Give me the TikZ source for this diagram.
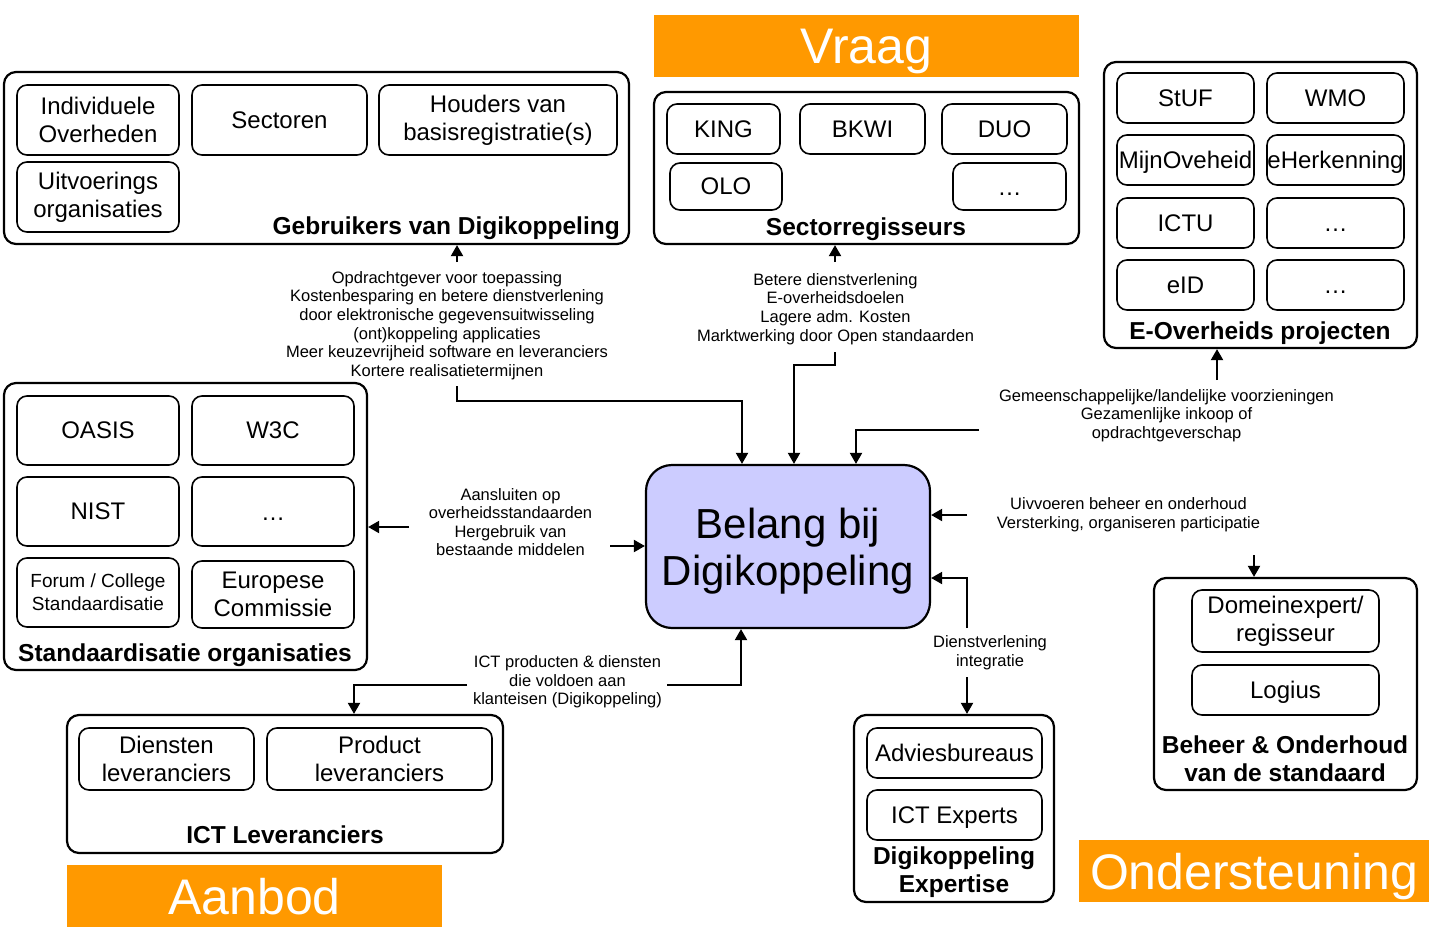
\documentclass[tikz,border=0pt]{standalone}
\usepackage{fontspec}
\setmainfont{Liberation Sans}
\usetikzlibrary{arrows.meta}
\definecolor{orng}{RGB}{255,153,0}
\definecolor{lav}{RGB}{204,204,255}
\newcommand\mybox[7]{\node[#1, minimum width={(#5)-(#3)}, minimum height={(#6)-(#4)}] (#2) at ({((#3)+(#5))/2},{((#4)+(#6))/2}) {#7};}
\begin{document}
\begin{tikzpicture}[x=1pt,y=-1pt,
 outer/.style={draw, line width=2.2pt, rounded corners=12pt, inner sep=0pt},
 inner/.style={draw, line width=1.6pt, rounded corners=10pt, inner sep=0pt, align=center, font=\fontsize{24}{28}\selectfont},
 one/.style={text depth=0pt},
 dots/.style={text height=17pt, text depth=0pt},
 ttl/.style={font=\bfseries\fontsize{24.5}{28}\selectfont, inner sep=0pt, align=center},
 lab/.style={font=\fontsize{16.5}{18.6}\selectfont, align=center, inner sep=0pt},
 orange/.style={fill=orng, inner sep=0pt, text=white, text depth=0pt, font=\fontsize{50}{56}\selectfont},
 arr/.style={line width=2pt, -{Triangle[length=11pt,width=12pt]}}]
\useasboundingbox[fill=white] (0,0) rectangle (1451,929);

% orange headers
\mybox{orange}{vraag}{654}{15}{1079}{77}{Vraag}
\mybox{orange}{aanbod}{67}{865}{442}{927}{Aanbod}
\mybox{orange}{onderst}{1079}{840}{1429}{902}{Ondersteuning}

% Gebruikers
\mybox{outer}{gebr}{4}{72}{629}{244}{}
\mybox{inner}{indiv}{17}{85}{179}{155}{Individuele\\Overheden}
\mybox{inner,one}{sector}{192}{85}{367}{155}{Sectoren}
\mybox{inner}{houders}{379}{85}{617}{155}{Houders van\\basisregistratie(s)}
\mybox{inner}{uitv}{17}{162}{179}{232}{Uitvoerings\\organisaties}
\node[ttl, anchor=east, text depth=0pt] (gebrt) at (620,226) {Gebruikers van Digikoppeling};

% Sectorregisseurs
\mybox{outer}{sect}{654}{92}{1079}{244}{}
\mybox{inner,one}{king}{667}{104}{780}{154}{KING}
\mybox{inner,one}{bkwi}{800}{104}{925}{154}{BKWI}
\mybox{inner,one}{duo}{942}{104}{1067}{154}{DUO}
\mybox{inner,one}{olo}{670}{163}{782}{210}{OLO}
\mybox{inner,dots}{sdots}{953}{163}{1066}{210}{\ldots}
\node[ttl, text depth=0pt] (sectt) at (866,227) {Sectorregisseurs};

% E-Overheids projecten
\mybox{outer}{eov}{1104}{62}{1417}{348}{}
\mybox{inner,one}{stuf}{1117}{73}{1254}{123}{StUF}
\mybox{inner,one}{wmo}{1267}{73}{1404}{123}{WMO}
\mybox{inner,one}{mijn}{1117}{135}{1254}{185}{MijnOveheid}
\mybox{inner,one}{eherk}{1267}{135}{1404}{185}{eHerkenning}
\mybox{inner,one}{ictu}{1117}{198}{1254}{248}{ICTU}
\mybox{inner,dots}{edots1}{1267}{198}{1404}{248}{\ldots}
\mybox{inner,one}{eid}{1117}{260}{1254}{310}{eID}
\mybox{inner,dots}{edots2}{1267}{260}{1404}{310}{\ldots}
\node[ttl, text depth=0pt] (eovt) at (1260,331) {E-Overheids projecten};

% Standaardisatie organisaties
\mybox{outer}{stand}{4}{383}{367}{670}{}
\mybox{inner,one}{oasis}{17}{396}{179}{465}{OASIS}
\mybox{inner,one}{w3c}{192}{396}{354}{465}{W3C}
\mybox{inner,one}{nist}{17}{477}{179}{546}{NIST}
\mybox{inner,dots}{stdots}{192}{477}{354}{546}{\ldots}
\mybox{inner, font=\fontsize{19}{23}\selectfont}{forum}{17}{558}{179}{627}{Forum / College\\Standaardisatie}
\mybox{inner}{europ}{192}{561}{354}{628}{Europese\\Commissie}
\node[ttl, text depth=0pt] (standt) at (185,653) {Standaardisatie organisaties};

% Belang
\mybox{draw, fill=lav, line width=2.2pt, rounded corners=26pt, inner sep=0pt, align=center, text depth=0pt, font=\fontsize{42}{47}\selectfont}{belang}{646}{465}{930}{628}{Belang bij\\Digikoppeling}

% ICT Leveranciers
\mybox{outer}{ictl}{67}{715}{503}{853}{}
\mybox{inner}{dienst}{79}{728}{254}{790}{Diensten\\leveranciers}
\mybox{inner}{product}{267}{728}{492}{790}{Product\\leveranciers}
\node[ttl, text depth=0pt] (ictlt) at (285,835) {ICT Leveranciers};

% Digikoppeling Expertise
\mybox{outer}{exp}{854}{715}{1054}{902}{}
\mybox{inner,one}{advies}{867}{728}{1042}{778}{Adviesbureaus}
\mybox{inner,one}{ictexp}{867}{790}{1042}{840}{ICT Experts}
\node[ttl] (expt) at (954,872) {Digikoppeling\\Expertise};

% Beheer & Onderhoud
\mybox{outer}{beheer}{1154}{578}{1417}{790}{}
\mybox{inner}{domein}{1192}{590}{1379}{652}{Domeinexpert/\\regisseur}
\mybox{inner,one}{logius}{1192}{665}{1379}{715}{Logius}
\node[ttl] (beheert) at (1285,759) {Beheer \& Onderhoud\\van de standaard};

% labels
\node[lab] (lab1) at (447,325.5) {Opdrachtgever voor toepassing\\Kostenbesparing en betere dienstverlening\\door elektronische gegevensuitwisseling\\(ont)koppeling applicaties\\Meer keuzevrijheid software en leveranciers\\Kortere realisatietermijnen};
\node[lab] (lab2) at (835.5,309) {Betere dienstverlening\\E-overheidsdoelen\\Lagere adm. Kosten\\Marktwerking door Open standaarden};
\node[lab] (lab3) at (1166.5,415.5) {Gemeenschappelijke/landelijke voorzieningen\\Gezamenlijke inkoop of\\opdrachtgeverschap};
\node[lab] (lab4) at (1128.5,515) {Uivvoeren beheer en onderhoud\\Versterking, organiseren participatie};
\node[lab] (lab5) at (990,653) {Dienstverlening\\integratie};
\node[lab] (lab6) at (567.5,682) {ICT producten \& diensten\\die voldoen aan\\klanteisen (Digikoppeling)};
\node[lab] (lab7) at (510.5,522) {Aansluiten op\\overheidsstandaarden\\Hergebruik van\\bestaande middelen};

% connectors
\coordinate (p1) at (457,262);
\draw[arr] (p1) -- (p1 |- gebr.south);
\coordinate (p2) at (457,386); \coordinate (p3) at (742,401);
\draw[arr] (p2) |- (p3) -- (p3 |- belang.north);

\coordinate (q1) at (835,262);
\draw[arr] (q1) -- (q1 |- sect.south);
\coordinate (q2) at (835,352); \coordinate (q3) at (794,365);
\draw[arr] (q2) |- (q3) -- (q3 |- belang.north);

\coordinate (r1) at (1217,380);
\draw[arr] (r1) -- (r1 |- eov.south);
\coordinate (r2) at (979,430); \coordinate (r3) at (856,430);
\draw[arr] (r2) -- (r3) -- (r3 |- belang.north);

\coordinate (s1) at (967,515);
\draw[arr] (s1) -- (s1 -| belang.east);
\coordinate (s2) at (1254,555);
\draw[arr] (s2) -- (s2 |- beheer.north);

\coordinate (t1) at (967,628); \coordinate (t2) at (967,578);
\draw[arr] (t1) -- (t2) -- (t2 -| belang.east);
\coordinate (t3) at (967,677);
\draw[arr] (t3) -- (t3 |- exp.north);

\coordinate (u1) at (667,685); \coordinate (u2) at (741,685);
\draw[arr] (u1) -- (u2) -- (u2 |- belang.south);
\coordinate (u3) at (467,685); \coordinate (u4) at (354,685);
\draw[arr] (u3) -- (u4) -- (u4 |- ictl.north);

\coordinate (v1) at (409,527);
\draw[arr] (v1) -- (v1 -| stand.east);
\coordinate (v2) at (610,546);
\draw[arr] (v2) -- (v2 -| belang.west);
\end{tikzpicture}
\end{document}
